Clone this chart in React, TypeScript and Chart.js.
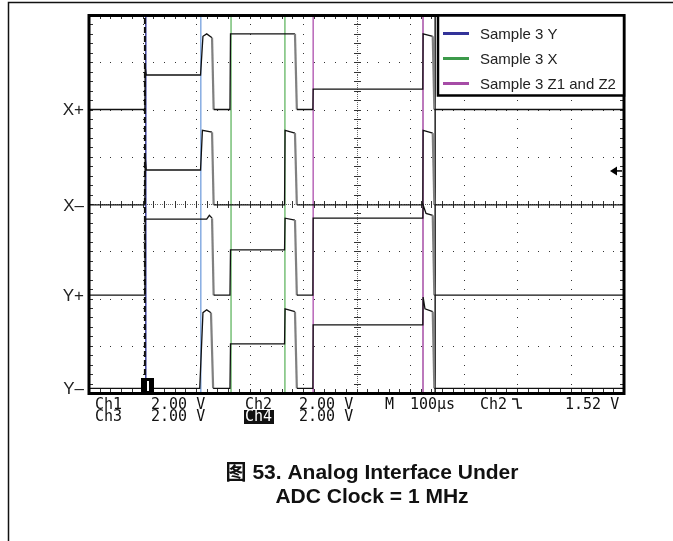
import React, { useEffect, useRef } from 'react';
import { Chart, registerables } from 'chart.js';

Chart.register(...registerables);

// Time axis in divisions (10 div, 100 µs/div); vertical axis in divisions (8 div, 2 V/div)
const laneLabels = ['X+', 'X–', 'Y+', 'Y–'];

const ch1Time = [0, 1.045, 1.05, 1.07, 2.085, 2.13, 2.2, 2.3, 2.33, 2.635, 2.645, 3.85, 3.885, 4.185, 4.19, 6.24, 6.245, 6.425, 6.455, 10];
const ch1Level = [6.0, 6.0, 6.9, 6.73, 6.73, 7.55, 7.6, 7.52, 6.0, 6.0, 7.6, 7.6, 6.0, 6.0, 6.43, 6.43, 7.6, 7.55, 6.0, 6.0];

const ch2Time = [0, 1.045, 1.05, 1.07, 2.085, 2.12, 2.3, 2.33, 3.655, 3.665, 3.85, 3.885, 6.24, 6.245, 6.425, 6.455, 10];
const ch2Level = [3.98, 3.98, 5.0, 4.72, 4.72, 5.56, 5.52, 3.98, 3.98, 5.56, 5.5, 3.98, 3.98, 5.56, 5.5, 3.98, 3.98];

const ch3Time = [0, 1.045, 1.05, 2.2, 2.25, 2.3, 2.33, 2.635, 2.645, 3.655, 3.665, 3.85, 3.885, 4.185, 4.19, 6.24, 6.245, 6.3, 6.425, 6.455, 10];
const ch3Level = [2.07, 2.07, 3.68, 3.68, 3.76, 3.7, 2.07, 2.07, 3.03, 3.03, 3.7, 3.66, 2.07, 2.07, 3.7, 3.7, 3.98, 3.8, 3.76, 2.07, 2.07];

const ch4Time = [0, 2.07, 2.13, 2.2, 2.28, 2.32, 2.635, 2.645, 3.655, 3.665, 3.85, 3.885, 4.185, 4.19, 6.24, 6.245, 6.28, 6.425, 6.455, 10];
const ch4Level = [0.1, 0.1, 1.7, 1.76, 1.7, 0.1, 0.1, 1.04, 1.04, 1.78, 1.72, 0.1, 0.1, 1.44, 1.44, 2.03, 1.78, 1.72, 0.1, 0.1];

// vertical marker lines (sample windows)
const markerTime = [1.045, 1.062, 2.09, 2.655, 3.662, 4.19, 6.243, 6.47];
const markerColor = ['#111111', '#2e3192', '#7ea6e0', '#6dbb6d', '#6dbb6d', '#b35ab3', '#a040a0', '#111111'];
const markerDashed = [true, false, false, false, false, false, false, false];

const legendLabels = ['Sample 3 Y', 'Sample 3 X', 'Sample 3 Z1 and Z2'];
const legendColors = ['#333399', '#3c9a4a', '#a64ca6'];

const triggerTime = 1.06;
const triggerLevelDiv = 4.7;

const readoutRow1 = ['Ch1', '2.00 V', 'Ch2', '2.00 V', 'M', '100µs', 'Ch2', '1.52 V'];
const readoutRow2 = ['Ch3', '2.00 V', 'Ch4', '2.00 V'];

const captionLines = ['图 53. Analog Interface Under', 'ADC Clock = 1 MHz'];

const toPoints = (t: number[], v: number[]) => t.map((x, i) => ({ x, y: v[i] }));

const scopePlugin = {
  id: 'scope',
  beforeDatasetsDraw(chart: any) {
    const { ctx, chartArea: a, scales } = chart;
    const X = (d: number) => scales.x.getPixelForValue(d);
    const Y = (v: number) => scales.y.getPixelForValue(v);
    ctx.save();
    // outer figure frame
    ctx.strokeStyle = '#111';
    ctx.lineWidth = 1.5;
    ctx.beginPath();
    ctx.moveTo(8.5, 541);
    ctx.lineTo(8.5, 2.5);
    ctx.lineTo(673, 2.5);
    ctx.stroke();

    // dotted graticule
    ctx.fillStyle = '#333';
    for (let d = 1; d < 10; d++) {
      if (d === 5) continue;
      const px = Math.round(X(d));
      for (let k = 0; k <= 40; k++) ctx.fillRect(px, Math.round(Y(k * 0.2)), 1, 1);
    }
    for (let v = 1; v < 8; v++) {
      if (v === 4) continue;
      const py = Math.round(Y(v));
      for (let k = 0; k <= 50; k++) ctx.fillRect(Math.round(X(k * 0.2)), py, 1, 1);
    }
    // center axes with minor ticks
    const cx = Math.round(X(5));
    const cy = Math.round(Y(4));
    ctx.fillStyle = '#666';
    for (let k = 0; k <= 200; k++) ctx.fillRect(cx, Math.round(Y(k * 0.04)), 1, 1);
    for (let k = 0; k <= 250; k++) ctx.fillRect(Math.round(X(k * 0.04)), cy, 1, 1);
    ctx.fillStyle = '#333';
    for (let k = 0; k <= 40; k++) {
      const py = Math.round(Y(k * 0.2));
      ctx.fillRect(cx - 3, py, 7, 1);
      ctx.fillRect(Math.round(a.left), py, 4, 1);
      ctx.fillRect(Math.round(a.right) - 4, py, 4, 1);
    }
    for (let k = 0; k <= 50; k++) {
      const px = Math.round(X(k * 0.2));
      ctx.fillRect(px, cy - 3, 1, 7);
      ctx.fillRect(px, Math.round(a.top), 1, 4);
      ctx.fillRect(px, Math.round(a.bottom) - 4, 1, 4);
    }
    ctx.restore();
  },
  afterDatasetsDraw(chart: any) {
    const { ctx, chartArea: a, scales } = chart;
    const X = (d: number) => scales.x.getPixelForValue(d);
    const Y = (v: number) => scales.y.getPixelForValue(v);
    ctx.save();
    // plot frame
    ctx.strokeStyle = '#000';
    ctx.lineWidth = 3;
    ctx.strokeRect(a.left, a.top + 0.5, a.right - a.left, a.bottom - a.top);

    // legend box
    const lx = 438, ly = a.top + 0.5, lw = a.right - 438, lh = 80;
    ctx.fillStyle = '#fff';
    ctx.fillRect(lx, ly, lw, lh);
    ctx.lineWidth = 2.5;
    ctx.strokeRect(lx, ly, lw, lh);
    ctx.font = '15px "Liberation Sans", Arial, sans-serif';
    ctx.textBaseline = 'middle';
    ctx.textAlign = 'left';
    legendLabels.forEach((lab, i) => {
      const yy = 33.5 + i * 25;
      ctx.strokeStyle = legendColors[i];
      ctx.lineWidth = 3;
      ctx.beginPath();
      ctx.moveTo(443, yy);
      ctx.lineTo(469, yy);
      ctx.stroke();
      ctx.fillStyle = '#222';
      ctx.fillText(lab, 480, yy + 1);
    });

    // trigger level arrow (right side)
    const ty = Y(triggerLevelDiv);
    ctx.fillStyle = '#000';
    ctx.beginPath();
    ctx.moveTo(610, ty);
    ctx.lineTo(617, ty - 4.5);
    ctx.lineTo(617, ty + 4.5);
    ctx.closePath();
    ctx.fill();
    ctx.fillRect(616, ty - 0.75, 6, 1.5);

    // trigger position marker (bottom)
    const tx = Math.round(X(triggerTime));
    const by = Math.round(a.bottom);
    ctx.fillStyle = '#000';
    ctx.fillRect(tx - 5, by - 15, 13, 14);
    ctx.fillStyle = '#fff';
    ctx.fillRect(tx + 1, by - 12, 2, 10);

    // lane labels
    ctx.fillStyle = '#222';
    ctx.font = '17px "Liberation Sans", Arial, sans-serif';
    ctx.textAlign = 'right';
    ctx.textBaseline = 'middle';
    const bases = [ch1Level[0], ch2Level[0], ch3Level[0], ch4Level[0]];
    laneLabels.forEach((lab, i) => ctx.fillText(lab, 84, Y(bases[i]) + 1));

    // readout
    ctx.font = '15px "DejaVu Sans Mono", monospace';
    ctx.textAlign = 'left';
    ctx.textBaseline = 'alphabetic';
    ctx.fillStyle = '#111';
    const r1x = [95, 151, 245, 299, 385, 410, 480, 565];
    readoutRow1.forEach((s, i) => ctx.fillText(s, r1x[i], 408.5));
    // falling edge symbol
    ctx.strokeStyle = '#111';
    ctx.lineWidth = 1.5;
    ctx.beginPath();
    ctx.moveTo(512, 399);
    ctx.lineTo(517, 399);
    ctx.lineTo(518, 408);
    ctx.lineTo(522, 408);
    ctx.stroke();
    const r2x = [95, 151, 245, 299];
    readoutRow2.forEach((s, i) => {
      if (i === 2) {
        ctx.fillStyle = '#111';
        ctx.fillRect(r2x[i] - 1, 410, 30, 14);
        ctx.fillStyle = '#fff';
        ctx.fillText(s, r2x[i], 421);
        ctx.fillStyle = '#111';
      } else {
        ctx.fillText(s, r2x[i], 421);
      }
    });

    // caption
    ctx.font = 'bold 21px "Liberation Sans", Arial, "Noto Sans CJK SC", sans-serif';
    ctx.textAlign = 'center';
    ctx.fillStyle = '#111';
    ctx.fillText(captionLines[0], 372, 478.5);
    ctx.fillText(captionLines[1], 372, 502.5);
    ctx.restore();
  },
};

export default function App() {
  const ref = useRef<HTMLCanvasElement | null>(null);
  useEffect(() => {
    if (!ref.current) return;
    const traceSeg = {
      borderColor: (c: any) => (c.p1.parsed.y < c.p0.parsed.y - 0.3 ? '#808080' : '#111'),
      borderWidth: (c: any) => (c.p1.parsed.y < c.p0.parsed.y - 0.3 ? 2.2 : 1.3),
    };
    const traces = [
      toPoints(ch1Time, ch1Level),
      toPoints(ch2Time, ch2Level),
      toPoints(ch3Time, ch3Level),
      toPoints(ch4Time, ch4Level),
    ].map((data, i) => ({
      label: 'Ch' + (i + 1),
      data,
      borderColor: '#111',
      borderWidth: 1.3,
      pointRadius: 0,
      tension: 0,
      showLine: true,
      order: 1,
      segment: traceSeg,
    }));
    const markers = markerTime.map((t, i) => ({
      label: 'marker' + i,
      data: [{ x: t, y: 0 }, { x: t, y: 8 }],
      borderColor: markerColor[i],
      borderWidth: markerDashed[i] ? 2 : 1.4,
      borderDash: markerDashed[i] ? [6, 3] : [],
      pointRadius: 0,
      showLine: true,
      order: 2,
    }));
    const chart = new Chart(ref.current, {
      type: 'scatter',
      data: { datasets: [...markers, ...traces] as any },
      options: {
        animation: false,
        responsive: false,
        layout: { padding: { left: 89, top: 15, right: 49, bottom: 148 } },
        scales: {
          x: { type: 'linear', min: 0, max: 10, display: false },
          y: { type: 'linear', min: 0, max: 8, display: false },
        },
        plugins: { legend: { display: false }, tooltip: { enabled: false } },
      },
      plugins: [scopePlugin],
    });
    return () => chart.destroy();
  }, []);
  return (
    <div style={{ position: 'absolute', left: 0, top: 0, width: 673, height: 541, background: '#fff' }}>
      <canvas ref={ref} width={673} height={541} style={{ width: 673, height: 541 }} />
    </div>
  );
}
